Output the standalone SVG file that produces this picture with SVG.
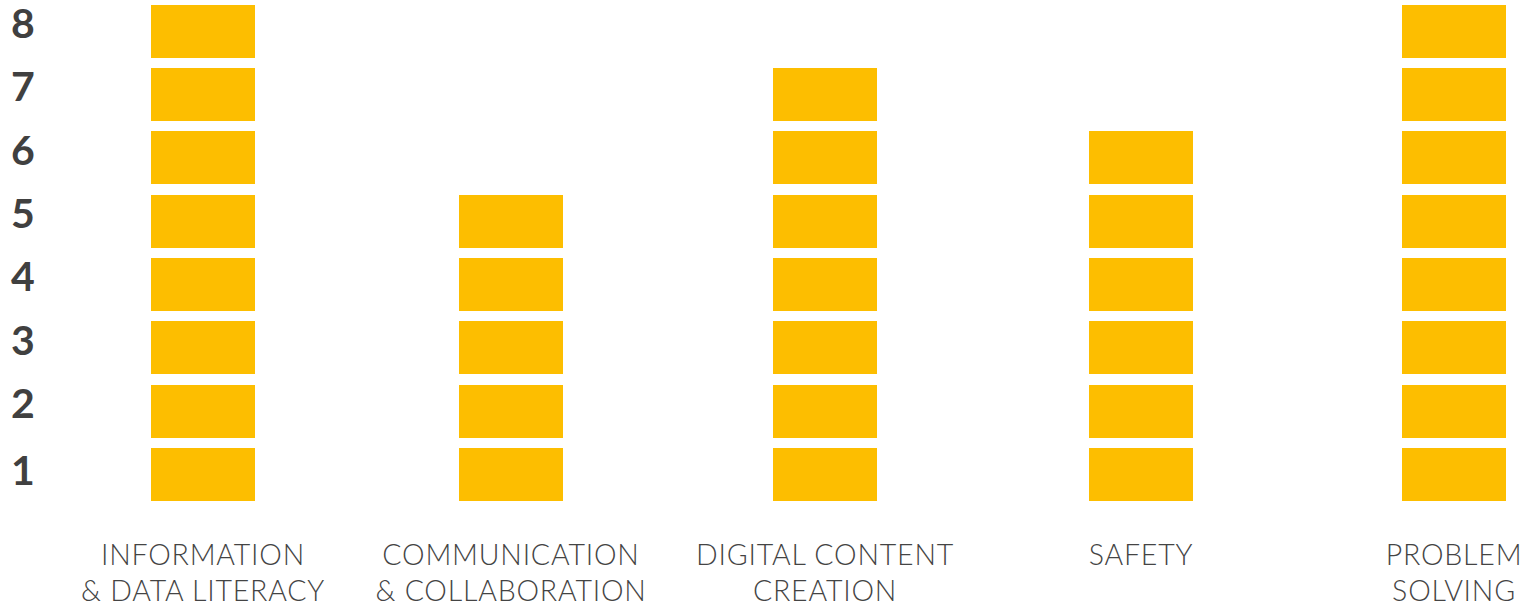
<svg xmlns="http://www.w3.org/2000/svg" width="1529" height="605" viewBox="0 0 1529 605">
<style>
.b{fill:#FDBE00}
.n{font-family:Lato,"Open Sans","Liberation Sans",sans-serif;font-weight:700;font-size:41px;fill:#404040;text-anchor:middle}
.l{font-family:Lato,"Open Sans","Liberation Sans",sans-serif;font-weight:300;font-size:28.5px;letter-spacing:0.8px;fill:#444;text-anchor:middle}
</style>
<rect width="1529" height="605" fill="#fff"/>
<defs>
<g id="c8"><rect class="b" x="0" y="5" width="104" height="53"/><rect class="b" x="0" y="68" width="104" height="53"/><rect class="b" x="0" y="131" width="104" height="53"/><rect class="b" x="0" y="195" width="104" height="53"/><rect class="b" x="0" y="258" width="104" height="53"/><rect class="b" x="0" y="321" width="104" height="53"/><rect class="b" x="0" y="385" width="104" height="53"/><rect class="b" x="0" y="448" width="104" height="53"/></g>
</defs>
<g id="axis">
<text class="n" x="23" y="38">8</text>
<text class="n" x="23" y="101">7</text>
<text class="n" x="23" y="165">6</text>
<text class="n" x="23" y="228">5</text>
<text class="n" x="23" y="291">4</text>
<text class="n" x="23" y="355">3</text>
<text class="n" x="23" y="418">2</text>
<text class="n" x="23" y="485">1</text>
</g>
<g id="info">
<use href="#c8" x="151"/>
<text class="l" x="203" y="565">INFORMATION</text>
<text class="l" x="203" y="601">&amp; DATA LITERACY</text>
</g>
<g id="comm">
<rect class="b" x="459" y="195" width="104" height="53"/><rect class="b" x="459" y="258" width="104" height="53"/><rect class="b" x="459" y="321" width="104" height="53"/><rect class="b" x="459" y="385" width="104" height="53"/><rect class="b" x="459" y="448" width="104" height="53"/>
<text class="l" x="511" y="565">COMMUNICATION</text>
<text class="l" x="511" y="601">&amp; COLLABORATION</text>
</g>
<g id="digital">
<rect class="b" x="773" y="68" width="104" height="53"/><rect class="b" x="773" y="131" width="104" height="53"/><rect class="b" x="773" y="195" width="104" height="53"/><rect class="b" x="773" y="258" width="104" height="53"/><rect class="b" x="773" y="321" width="104" height="53"/><rect class="b" x="773" y="385" width="104" height="53"/><rect class="b" x="773" y="448" width="104" height="53"/>
<text class="l" x="825" y="565">DIGITAL CONTENT</text>
<text class="l" x="825" y="601">CREATION</text>
</g>
<g id="safety">
<rect class="b" x="1089" y="131" width="104" height="53"/><rect class="b" x="1089" y="195" width="104" height="53"/><rect class="b" x="1089" y="258" width="104" height="53"/><rect class="b" x="1089" y="321" width="104" height="53"/><rect class="b" x="1089" y="385" width="104" height="53"/><rect class="b" x="1089" y="448" width="104" height="53"/>
<text class="l" x="1141" y="565">SAFETY</text>
</g>
<g id="problem">
<use href="#c8" x="1402"/>
<text class="l" x="1454" y="565">PROBLEM</text>
<text class="l" x="1454" y="601">SOLVING</text>
</g>
<g id="connectors"/>
</svg>
